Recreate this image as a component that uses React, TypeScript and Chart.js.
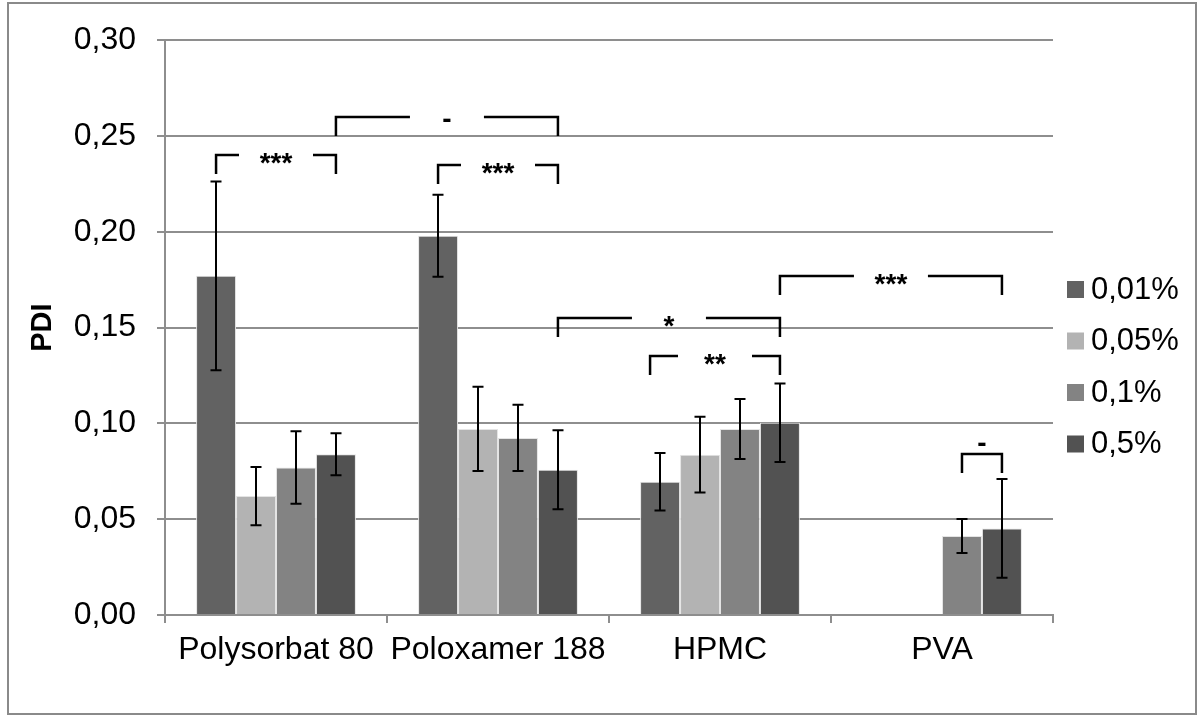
import React, { useEffect, useRef } from 'react';
import { Chart, registerables } from 'chart.js';

Chart.register(...registerables);

// ---- data ----
const categories = ['Polysorbat 80', 'Poloxamer 188', 'HPMC', 'PVA'];
const seriesLabels = ['0,01%', '0,05%', '0,1%', '0,5%'];
const seriesColors = ['#626262', '#b3b3b3', '#838383', '#525252'];

const pdi001 = [0.177, 0.1979, 0.0695, null];
const pdi005 = [0.0621, 0.0971, 0.0837, null];
const pdi01 = [0.077, 0.0924, 0.0971, 0.0412];
const pdi05 = [0.0839, 0.0758, 0.1003, 0.0452];

const err001 = [0.0493, 0.0214, 0.015, null];
const err005 = [0.0152, 0.022, 0.0198, null];
const err01 = [0.0189, 0.0173, 0.0157, 0.0089];
const err05 = [0.011, 0.0206, 0.0205, 0.0258];

const yTickLabels = ['0,00', '0,05', '0,10', '0,15', '0,20', '0,25', '0,30'];
const yTitle = 'PDI';

// significance brackets: endpoints as [category index, series index]
const brackets = [
  { from: [0, 0], to: [0, 3], level: 0.2402, label: '***' },
  { from: [0, 3], to: [1, 3], level: 0.2597, label: '-' },
  { from: [1, 0], to: [1, 3], level: 0.235, label: '***' },
  { from: [1, 3], to: [2, 3], level: 0.155, label: '*' },
  { from: [2, 3], to: [3, 3], level: 0.177, label: '***' },
  { from: [2, 0], to: [2, 3], level: 0.1353, label: '**', fromShift: -0.25 },
  { from: [3, 2], to: [3, 3], level: 0.0842, label: '-', above: true },
];

const seriesValues = [pdi001, pdi005, pdi01, pdi05];
const seriesErrors = [err001, err005, err01, err05];

const FONT = '"Liberation Sans", Arial, sans-serif';
const GRID = '#8e8e8e';

const decorPlugin = {
  id: 'decor',
  beforeDraw(chart: any) {
    const ctx = chart.ctx;
    ctx.save();
    ctx.fillStyle = '#ffffff';
    ctx.fillRect(0, 0, chart.width, chart.height);
    ctx.strokeStyle = '#8a8a8a';
    ctx.lineWidth = 2;
    ctx.strokeRect(8, 3, 1188, 711);
    ctx.restore();
  },
  afterDatasetsDraw(chart: any) {
    const ctx = chart.ctx;
    const yScale = chart.scales.y;
    ctx.save();
    // error bars
    ctx.strokeStyle = '#000000';
    ctx.lineWidth = 2;
    seriesErrors.forEach((errs, di) => {
      const meta = chart.getDatasetMeta(di);
      errs.forEach((e, ci) => {
        const v = seriesValues[di][ci];
        if (v == null || e == null) return;
        const bar = meta.data[ci];
        const x = Math.round(bar.x);
        const yTop = yScale.getPixelForValue(v + e);
        const yBot = yScale.getPixelForValue(v - e);
        const cap = 5.5;
        ctx.beginPath();
        ctx.moveTo(x, yTop);
        ctx.lineTo(x, yBot);
        ctx.moveTo(x - cap, yTop);
        ctx.lineTo(x + cap, yTop);
        ctx.moveTo(x - cap, yBot);
        ctx.lineTo(x + cap, yBot);
        ctx.stroke();
      });
    });
    // brackets
    ctx.lineWidth = 2.5;
    ctx.lineCap = 'butt';
    ctx.lineJoin = 'miter';
    ctx.font = 'bold 28px ' + FONT;
    ctx.fillStyle = '#000000';
    ctx.textAlign = 'center';
    ctx.textBaseline = 'alphabetic';
    const leg = 19;
    const gap = 37;
    brackets.forEach((b: any) => {
      const b1 = chart.getDatasetMeta(b.from[1]).data[b.from[0]];
      const b2 = chart.getDatasetMeta(b.to[1]).data[b.to[0]];
      const x1 = b1.x + (b.fromShift || 0) * b1.width;
      const x2 = b2.x + (b.toShift || 0) * b2.width;
      const y = Math.round(yScale.getPixelForValue(b.level));
      const mid = (x1 + x2) / 2;
      ctx.beginPath();
      ctx.moveTo(x1, y + leg);
      ctx.lineTo(x1, y);
      if (b.above) {
        ctx.lineTo(x2, y);
      } else {
        ctx.lineTo(mid - gap, y);
        ctx.moveTo(mid + gap, y);
        ctx.lineTo(x2, y);
      }
      ctx.lineTo(x2, y + leg);
      ctx.stroke();
      const m = ctx.measureText(b.label);
      const center = b.above ? y - 10 : y + 3;
      const base = center + (m.actualBoundingBoxAscent - m.actualBoundingBoxDescent) / 2;
      ctx.fillText(b.label, mid, base);
    });
    // legend
    ctx.font = '31px ' + FONT;
    ctx.textAlign = 'left';
    ctx.textBaseline = 'middle';
    seriesLabels.forEach((lab, i) => {
      const cy = 289 + i * 51.5;
      ctx.fillStyle = seriesColors[i];
      ctx.fillRect(1067, cy - 8, 17, 17);
      ctx.fillStyle = '#000000';
      ctx.fillText(lab, 1091, cy + 1);
    });
    ctx.restore();
  },
};

export default function App() {
  const ref = useRef<HTMLCanvasElement | null>(null);
  useEffect(() => {
    if (!ref.current) return;
    const chart = new Chart(ref.current, {
      type: 'bar',
      data: {
        labels: categories,
        datasets: seriesLabels.map((lab, i) => ({
          label: lab,
          data: seriesValues[i] as any,
          backgroundColor: seriesColors[i],
          borderColor: '#e4e4e4',
          borderWidth: 1,
          categoryPercentage: 0.72,
          barPercentage: 1,
        })),
      },
      options: {
        responsive: false,
        animation: false,
        layout: { padding: { top: 37, right: 151, bottom: 0, left: 0 } },
        plugins: {
          legend: { display: false },
          tooltip: { enabled: false },
        },
        scales: {
          x: {
            offset: true,
            afterFit: (s: any) => { s.height = 105; },
            grid: { drawOnChartArea: false, drawTicks: true, tickLength: 8, color: GRID, lineWidth: 2 },
            border: { display: true, color: GRID, width: 2 },
            ticks: { font: { family: FONT, size: 32 }, color: '#000000', padding: 8, maxRotation: 0, autoSkip: false },
          },
          y: {
            min: 0,
            max: 0.3,
            afterFit: (s: any) => { s.width = 165; },
            grid: { color: GRID, lineWidth: 2, tickLength: 8, drawTicks: true },
            border: { display: true, color: GRID, width: 2 },
            ticks: {
              stepSize: 0.05,
              padding: 21,
              color: '#000000',
              font: { family: FONT, size: 32 },
              callback: (_v: any, i: number) => yTickLabels[i],
            },
            title: {
              display: true,
              text: yTitle,
              color: '#000000',
              font: { family: FONT, size: 29, weight: 'bold' },
              padding: { top: 26, bottom: 0 },
            },
          },
        },
      },
      plugins: [decorPlugin],
    });
    return () => chart.destroy();
  }, []);
  return (
    <div style={{ position: 'absolute', left: 0, top: 0, width: 1204, height: 720 }}>
      <canvas ref={ref} width={1204} height={720} />
    </div>
  );
}
